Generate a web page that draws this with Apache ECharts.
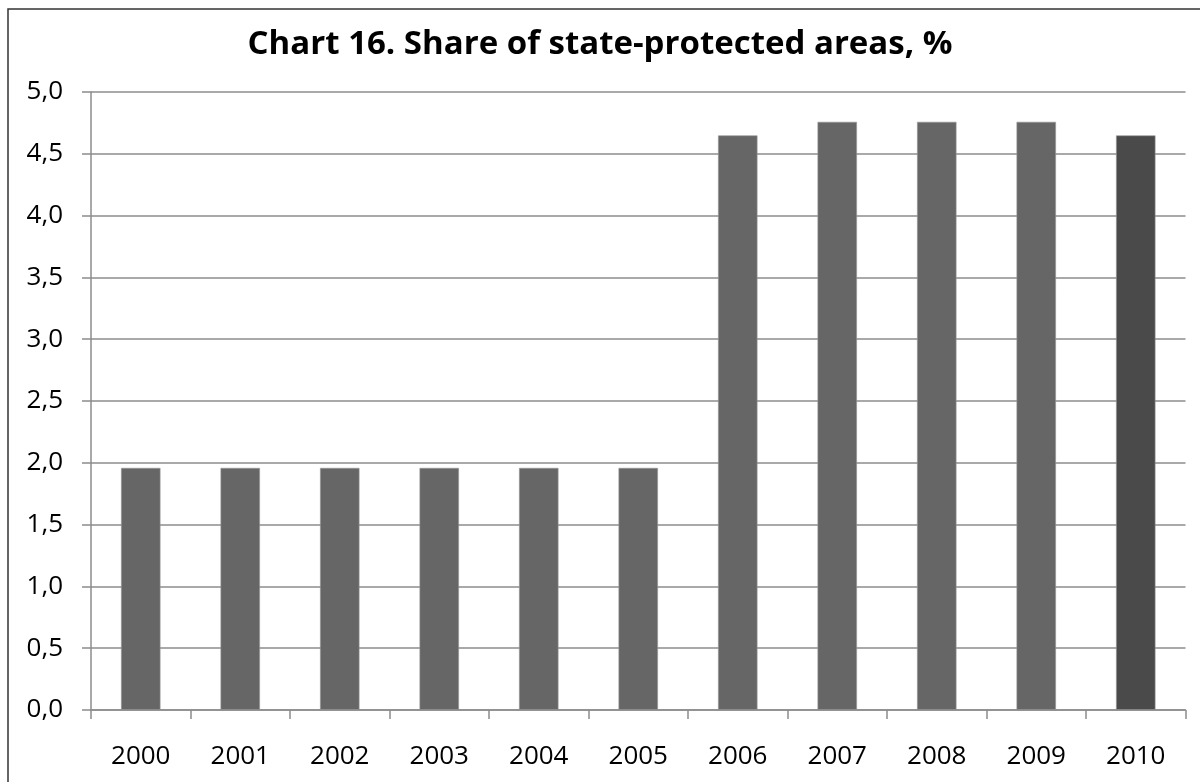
<!DOCTYPE html>
<html>
<head>
<meta charset="utf-8">
<style>
  html, body { margin: 0; padding: 0; background: #fff; }
  #chart { width: 1200px; height: 782px; }
</style>
<script src="https://cdn.jsdelivr.net/npm/echarts@6/dist/echarts.min.js"></script>
</head>
<body>
<div id="chart"></div>
<script>
// Share of state-protected areas by year, %
const years = ['2000', '2001', '2002', '2003', '2004', '2005', '2006', '2007', '2008', '2009', '2010'];
const shares = [1.96, 1.96, 1.96, 1.96, 1.96, 1.96, 4.65, 4.76, 4.76, 4.76, 4.65];
const yTicks = [0, 0.5, 1, 1.5, 2, 2.5, 3, 3.5, 4, 4.5, 5];

const latestYear = years[years.length - 1];
const barColor = '#666666';
const latestColor = '#4a4a4a';
const gridColor = '#8c8c8c';
const font = '"Open Sans", "Noto Sans", sans-serif';

const chart = echarts.init(document.getElementById('chart'), null, { renderer: 'canvas' });

chart.setOption({
  animation: false,
  backgroundColor: '#ffffff',
  title: {
    text: 'Chart 16. Share of state-protected areas, %',
    left: 'center',
    top: 23,
    textStyle: { fontFamily: font, fontWeight: 'bold', fontSize: 33, color: '#000' }
  },
  graphic: [{
    type: 'rect',
    shape: { x: 8, y: 9, width: 1220, height: 800 },
    style: { fill: 'none', stroke: '#333', lineWidth: 1.5 },
    silent: true
  }],
  grid: { left: 91, right: 14.5, top: 92, bottom: 72, containLabel: false },
  xAxis: {
    type: 'category',
    data: years,
    axisLine: { show: true, lineStyle: { color: gridColor, width: 1.5 } },
    axisTick: { show: true, length: 9, lineStyle: { color: gridColor, width: 1.5 } },
    axisLabel: { fontFamily: font, fontSize: 26, color: '#000', margin: 34 }
  },
  yAxis: {
    type: 'value',
    min: yTicks[0],
    max: yTicks[yTicks.length - 1],
    interval: 0.5,
    axisLine: { show: true, lineStyle: { color: gridColor, width: 1.5 } },
    axisTick: { show: true, length: 9, lineStyle: { color: gridColor, width: 1.5 } },
    splitLine: { show: true, lineStyle: { color: gridColor, width: 1.5 } },
    axisLabel: {
      fontFamily: font, fontSize: 26, color: '#000', margin: 28,
      formatter: v => v.toFixed(1).replace('.', ',')
    }
  },
  series: [{
    type: 'bar',
    barWidth: '40%',
    data: shares.map((v, i) => ({
      value: v,
      itemStyle: { color: years[i] === latestYear ? latestColor : barColor }
    })),
    itemStyle: { borderColor: 'rgba(150,150,150,0.6)', borderWidth: 1 }
  }]
});
</script>
</body>
</html>
